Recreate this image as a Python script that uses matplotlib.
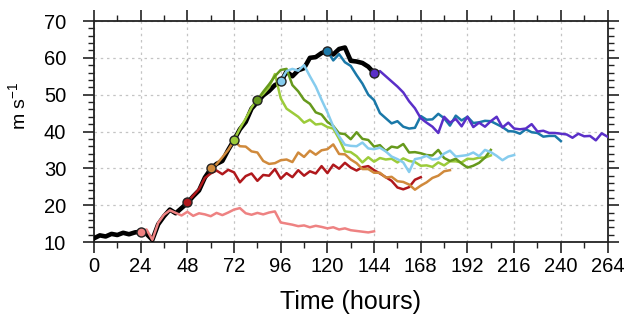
import numpy as np
import matplotlib
matplotlib.use("Agg")
import matplotlib.pyplot as plt
from matplotlib.ticker import MultipleLocator

plt.rcParams['font.family'] = ['Liberation Sans', 'DejaVu Sans']
plt.rcParams['mathtext.default'] = 'regular'

# ---- data (hours, m/s), sampled every 3 h ----
black_start = 0
black = [11.0, 11.8, 11.5, 12.2, 11.9, 12.5, 12.1, 12.6, 12.8, 12.2, 10.6, 14.8, 17.0, 18.8, 17.8,
         19.2, 20.6, 22.4, 24.0, 27.5, 29.8, 31.2, 32.0, 35.0, 37.7, 40.6, 42.6, 46.2, 48.0, 49.8,
         51.0, 52.6, 53.4, 56.3, 55.0, 56.6, 57.2, 60.0, 60.2, 61.3, 61.8, 60.9, 62.4, 62.8, 59.2,
         59.0, 58.6, 57.6, 55.9]

pink_start = 24
pink = [12.8, 13.4, 10.6, 15.2, 17.4, 18.6, 17.9, 17.2, 18.2, 17.1, 17.8, 17.5, 17.0, 17.9, 17.3,
        18.0, 18.8, 19.2, 17.8, 17.4, 17.9, 17.5, 18.0, 18.3, 15.3, 15.0, 14.7, 14.3, 14.5, 14.0,
        14.4, 14.1, 13.7, 14.0, 13.4, 13.7, 13.2, 13.0, 12.8, 12.6, 12.9]

red_start = 48
red = [20.8, 22.6, 24.4, 27.4, 28.6, 29.4, 28.4, 29.6, 28.9, 26.2, 27.9, 28.6, 26.6, 28.2, 28.0,
       29.8, 27.2, 28.7, 27.6, 29.5, 28.0, 29.2, 28.6, 30.6, 28.7, 31.0, 29.9, 31.5, 30.2, 29.4,
       30.3, 30.6, 29.5, 28.6, 27.6, 26.6, 24.8, 24.3, 24.9, 26.9, 27.6]

orange_start = 60
orange = [30.0, 31.1, 33.0, 35.0, 37.5, 36.0, 35.9, 34.6, 34.3, 32.0, 31.2, 31.4, 32.2, 32.4, 31.7,
          34.3, 33.1, 34.8, 33.7, 34.9, 35.2, 36.5, 33.9, 33.8, 32.4, 31.4, 29.8, 29.8, 28.8, 28.8,
          27.5, 27.7, 26.5, 26.3, 25.6, 24.2, 25.3, 26.2, 27.4, 28.0, 29.2, 29.5]

lgreen_start = 72
lgreen = [37.7, 40.8, 43.5, 46.5, 48.8, 50.2, 52.0, 55.6, 49.0, 46.2, 45.1, 44.0, 42.4, 43.2, 41.9,
          42.1, 41.2, 40.8, 38.0, 34.6, 34.4, 33.3, 31.6, 33.0, 31.8, 32.8, 32.4, 32.6, 31.6, 32.7,
          32.0, 31.7, 30.7, 30.8, 30.4, 31.6, 30.8, 31.9, 31.9, 31.6, 32.6, 32.5, 32.9, 32.9, 33.5]

dgreen_start = 84
dgreen = [48.6, 50.8, 52.8, 55.0, 56.7, 57.0, 52.6, 50.9, 48.6, 47.5, 45.2, 44.6, 42.6, 41.5, 39.5,
          39.3, 37.9, 39.8, 38.0, 37.7, 35.9, 36.3, 34.7, 35.9, 35.6, 36.6, 34.3, 34.4, 34.1, 33.6,
          33.5, 35.0, 32.8, 32.0, 32.6, 31.3, 30.2, 30.7, 31.5, 32.9, 35.0]

lblue_start = 96
lblue = [53.7, 56.4, 57.0, 56.5, 58.0, 55.0, 52.2, 48.6, 45.2, 41.4, 38.7, 36.4, 36.1, 36.0, 37.0,
         35.4, 35.2, 35.6, 34.6, 33.2, 32.5, 31.6, 29.0, 32.5, 32.8, 33.4, 32.4, 32.6, 34.0, 34.8,
         33.2, 33.4, 33.6, 34.3, 33.3, 35.0, 34.4, 33.4, 32.2, 33.2, 33.6]

teal_start = 120
teal = [61.8, 59.3, 61.0, 58.8, 57.8, 55.3, 53.0, 50.0, 48.5, 45.0, 43.6, 42.2, 42.8, 41.3, 40.8,
        41.0, 44.2, 43.2, 43.3, 44.8, 43.6, 41.6, 44.3, 43.0, 44.0, 42.3, 42.5, 42.9, 42.8, 42.0,
        41.2, 40.1, 40.0, 39.4, 40.6, 39.8, 39.6, 38.6, 38.8, 38.8, 37.4]

purple_start = 144
purple = [55.8, 56.4, 55.0, 53.6, 52.2, 50.6, 48.2, 46.3, 43.6, 42.4, 41.3, 39.6, 44.0, 42.4, 43.4,
          41.4, 44.0, 41.2, 42.4, 41.3, 42.8, 44.0, 41.1, 42.4, 40.8, 40.6, 40.8, 42.0, 40.0, 40.2,
          39.6, 39.6, 39.4, 39.2, 38.3, 39.4, 38.7, 38.8, 37.6, 39.5, 38.6]

step = 3
xticks = list(range(0, 265, 24))
yticks = list(range(10, 71, 10))

branches = [
    (pink_start, pink, '#EE8282'),
    (red_start, red, '#B0181C'),
    (orange_start, orange, '#D08A3C'),
    (lgreen_start, lgreen, '#9CCB3A'),
    (dgreen_start, dgreen, '#66991C'),
    (lblue_start, lblue, '#86CCEE'),
    (teal_start, teal, '#1A78A8'),
    (purple_start, purple, '#5A2FC8'),
]

fig = plt.figure(figsize=(6.28, 3.29), dpi=100)
ax = fig.add_axes([94/628, 1-242/329, (607.5-94)/628, (242-21)/329])

tb = black_start + step*np.arange(len(black))
ax.plot(tb, black, color='black', lw=3.3, zorder=3, solid_joinstyle='round')

for start, vals, col in branches:
    t = start + step*np.arange(len(vals))
    ax.plot(t, vals, color=col, lw=1.8, zorder=4, solid_joinstyle='round')
for start, vals, col in branches:
    ax.plot([start], [vals[0]], 'o', ms=6.5, mfc=col, mec='#222222', mew=1.0, zorder=6)

ax.set_xlim(0, 264)
ax.set_ylim(10, 70)
ax.set_xticks(xticks)
ax.set_yticks(yticks)
ax.xaxis.set_minor_locator(MultipleLocator(12))
ax.yaxis.set_minor_locator(MultipleLocator(2))
ax.tick_params(which='both', direction='out', top=True, right=True, color='#222222')
ax.tick_params(which='major', length=8, width=1.2, labelsize=14.5)
ax.tick_params(which='minor', length=4, width=1.0)
ax.tick_params(axis='x', which='major', pad=3)
ax.tick_params(axis='y', which='major', pad=12)
ax.grid(True, which='major', color='#C4C4C4', linestyle=(0, (2, 3)), lw=0.9, zorder=1)
for s in ax.spines.values():
    s.set_linewidth(1.3)
    s.set_color('#222222')

ax.set_xlabel('Time (hours)', fontsize=18)
ax.xaxis.set_label_coords(0.5, (242-302)/221)
ax.xaxis.label.set_va('center')
ax.set_ylabel('m s$^{-1}$', fontsize=14)
ax.yaxis.set_label_coords((18-94)/513.5, (242-106)/221)
ax.yaxis.label.set_va('center')
ax.yaxis.label.set_ha('center')

fig.savefig('out.png', dpi=100)
